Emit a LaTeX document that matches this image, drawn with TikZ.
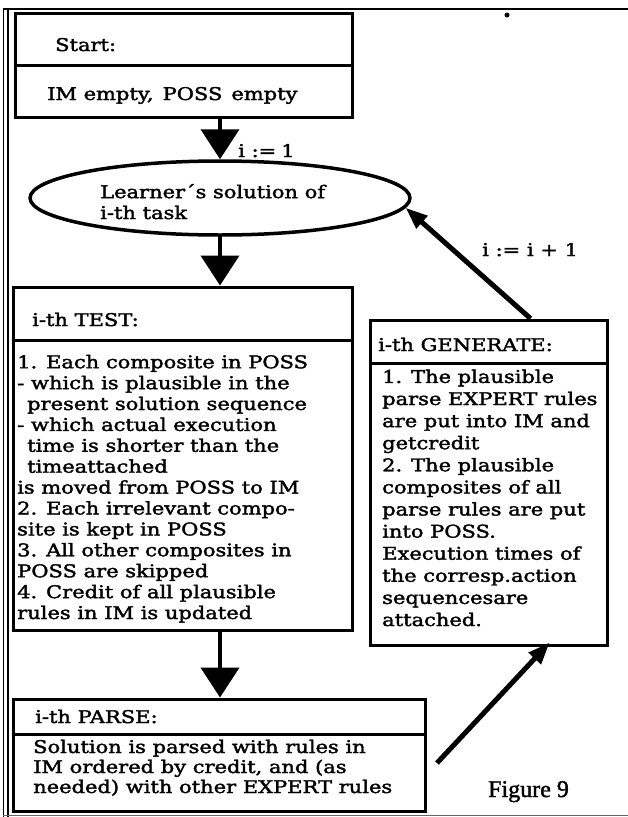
\documentclass[tikz,border=0pt]{standalone}
\usepackage{fontspec}
\setmainfont{DejaVu Serif}[FakeStretch=1.2,FakeBold=2]
\newfontfamily\figfont{Liberation Serif}[FakeBold=1.5]
\usetikzlibrary{arrows.meta,shapes.geometric,calc}
\begin{document}
\begin{tikzpicture}[x=1pt,y=-1pt,
  box/.style={draw,line width=3pt,rectangle,inner sep=0pt},
  divline/.style={line width=3pt},
  txt/.style={anchor=base west,inner sep=0pt,align=left,font=\fontsize{17.5}{20.9}\selectfont},
  gtxt/.style={txt,font=\fontsize{17.5}{22.1}\selectfont},
  ptxt/.style={txt,font=\fontsize{17.5}{20}\selectfont},
  bigarrow/.style={line width=4pt,-{Triangle[width=38pt,length=30pt]}},
  slantarrow/.style={line width=5pt,-{Triangle[width=16pt,length=22pt]}}]
\useasboundingbox (0,0) rectangle (628,817);
% frame
\draw[line width=2.5pt] (3,9) -- (628,9);
\draw[line width=1pt] (3,9) -- (3,817);
\draw[line width=1.2pt] (8,9) -- (8,817);
\draw[line width=0.8pt,black!60] (3,815) -- (628,815);
\fill (507,15) circle (2.5);
% start box
\node[box,minimum width=337pt,minimum height=104pt] (start) at (183.5,65) {};
\draw[divline] (start.west |- 0,65) -- (start.east |- 0,65);
\node[txt] (starttitle) at (55,51) {Start:};
\node[txt] (starttext) at (47,100) {IM empty,\hspace{9pt}POSS\hspace{9pt}empty};
% ellipse
\node[ellipse,draw,line width=3.5pt,minimum width=380pt,minimum height=74pt,inner sep=0pt] (ell) at (220,198) {};
\node[txt] (elltext) at (100,219) {Learner´s solution of\\i-th task};
% test box
\node[box,minimum width=339pt,minimum height=343pt] (test) at (182.5,458.5) {};
\draw[divline] (test.west |- 0,340) -- (test.east |- 0,340);
\node[txt] (testtitle) at (32,326) {i-th TEST:};
\node[txt] (testtext) at (17,619) {1. Each composite in POSS\\
- which is plausible in the\\
\hspace*{10pt}present solution sequence\\
- which actual execution\\
\hspace*{10pt}time is shorter than the\\
\hspace*{10pt}timeattached\\
is moved from POSS to IM\\
2. Each irrelevant compo-\\
site is kept in POSS\\
3. All other composites in\\
POSS are skipped\\
4. Credit of all plausible\\
rules in IM is updated};
% generate box
\node[box,minimum width=237pt,minimum height=325pt] (gen) at (488.5,482.5) {};
\draw[divline] (gen.west |- 0,363) -- (gen.east |- 0,363);
\node[txt] (gentitle) at (378,351) {i-th GENERATE:};
\node[gtxt] (gentext) at (382,626) {1. The plausible\\
parse EXPERT rules\\
are put into IM and\\
getcredit\\
2. The plausible\\
composites of all\\
parse rules are put\\
into POSS.\\
Execution times of\\
the corresp.action\\
sequencesare\\
attached.};
% parse box
\node[box,minimum width=412pt,minimum height=112pt] (parse) at (219,755) {};
\draw[divline] (parse.west |- 0,734) -- (parse.east |- 0,734);
\node[txt] (parsetitle) at (35,723) {i-th PARSE:};
\node[ptxt] (parsetext) at (33,793) {Solution is parsed with rules in\\
IM ordered by credit, and (as\\
needed) with other EXPERT rules};
% arrows
\draw[bigarrow] (start.south -| ell.north) -- (ell.north);
\draw[bigarrow] (ell.south) -- (ell.south |- test.north);
\draw[bigarrow] (test.south -| ell.south) -- (ell.south |- parse.north);
\coordinate (gtop) at ($(gen.north west)!0.675!(gen.north east)$);
\draw[slantarrow] (gtop) -- (ell.-3.5);
\coordinate (ptail) at (437,763);
\coordinate (gbot) at ($(gen.south west)!0.755!(gen.south east)$);
\draw[slantarrow] (ptail) -- ($(gbot)+(0,-4)$);
% labels
\node[txt] (lab1) at (238,157) {i :=\hspace{5pt}1};
\node[txt] (lab2) at (482,256) {i := i + 1};
\node[anchor=base west,inner sep=0pt,font=\figfont\fontsize{24}{28}\selectfont] (fig) at (488,797) {Figure 9};
\end{tikzpicture}
\end{document}
